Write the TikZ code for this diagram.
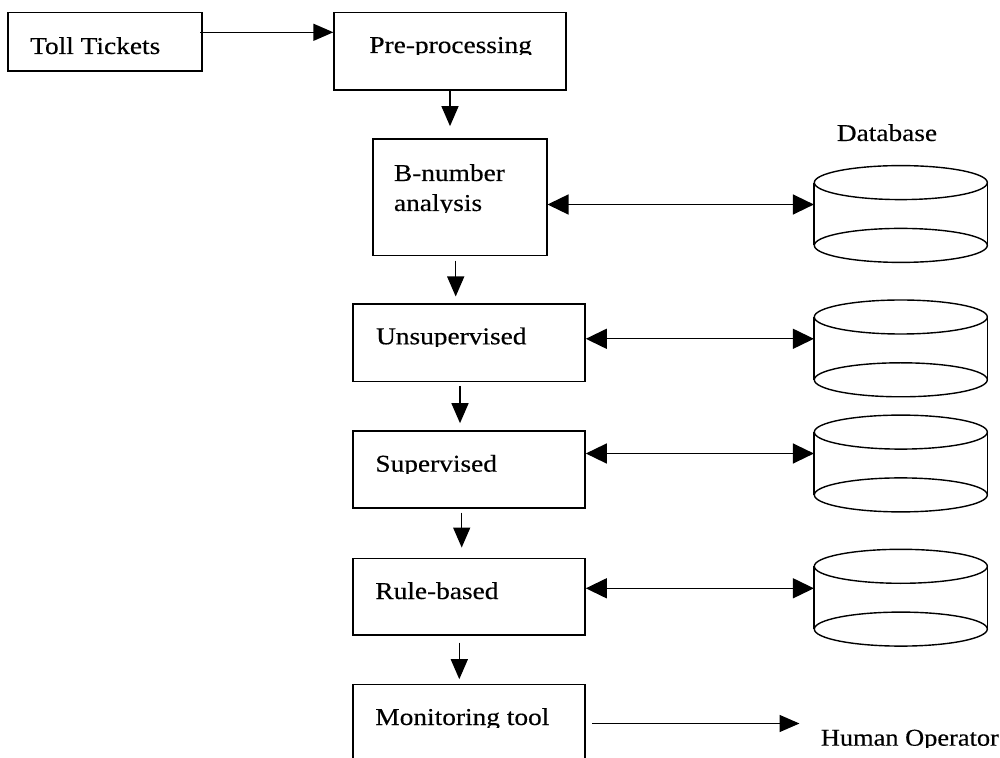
\documentclass[tikz,border=0pt]{standalone}
\usepackage{fontspec}
\setmainfont{Liberation Serif}
\newfontfamily\lblfont{Liberation Serif}[FakeBold=0.35]
\usepackage{graphicx}
\usetikzlibrary{arrows.meta}

\tikzset{
  box/.style={draw, line width=0.8pt, inner sep=0pt},
  lbl/.style={inner sep=0pt, anchor=base west, font=\lblfont\fontsize{12.1pt}{14.5pt}\selectfont},
  arr/.style={line width=0.7pt, -{Triangle[length=10pt,width=8.5pt]}},
  dbl/.style={line width=0.7pt, {Triangle[length=10.5pt,width=10pt]}-{Triangle[length=10.5pt,width=10pt]}},
  dbnode/.style={inner sep=0pt, minimum width=86.5pt, minimum height=48pt},
  dbline/.style={line width=0.7pt},
}
% text set slightly wide
\newcommand{\wide}[2][1.13]{\scalebox{#1}[1]{#2}}
% label cut off just below its baseline: name, x, baseline, clip y, text
\newcommand{\cliplabel}[5]{%
  \begin{scope}
    \clip (#2-10,#3-40) rectangle (#2+400,#4);
    \node[lbl] (#1) at (#2,#3) {#5};
  \end{scope}}
% database cylinder drawn over an invisible node
\newcommand{\dbcyl}[1]{%
  \draw[dbline] ([shift={(0,17)}]#1.north) ellipse [x radius=86.5, y radius=17];
  \draw[dbline] ([shift={(0,-17)}]#1.south) ellipse [x radius=86.5, y radius=17];
  \draw[dbline] ([shift={(0,17)}]#1.north west) -- ([shift={(0,-17)}]#1.south west);
  \draw[dbline] ([shift={(0,17)}]#1.north east) -- ([shift={(0,-17)}]#1.south east);}

\begin{document}
\begin{tikzpicture}[x=0.5pt, y=-0.5pt]
\clip (0,0) rectangle (1000,758);

% process boxes
\node[box, minimum width=97pt,    minimum height=29.15pt] (toll)  at (104.7,41.8) {};
\node[box, minimum width=115.85pt, minimum height=38.65pt] (pre)  at (450,51.3) {};
\node[box, minimum width=87pt,    minimum height=58.35pt] (bnum)  at (459.7,197.3) {};
\node[box, minimum width=116pt,   minimum height=38.7pt]  (unsup) at (469,343) {};
\node[box, minimum width=116pt,   minimum height=38.5pt]  (sup)   at (469,469.5) {};
\node[box, minimum width=116pt,   minimum height=38.35pt] (rule)  at (469,596.7) {};
\node[box, minimum width=116pt,   minimum height=52.85pt] (mon)   at (469,737.15) {};

% databases
\node[dbnode] (db1) at (900.8,214) {};
\node[dbnode] (db2) at (900.8,348.4) {};
\node[dbnode] (db3) at (900.8,463.5) {};
\node[dbnode] (db4) at (900.8,597.7) {};
\dbcyl{db1}
\dbcyl{db2}
\dbcyl{db3}
\dbcyl{db4}

% labels
\cliplabel{tolltxt}{29.8}{54}{62}{\wide{Toll Tickets}}
\cliplabel{pretxt}{369}{53}{54.5}{\wide{Pre-processing}}
\cliplabel{btxt}{393.6}{181}{190}{\wide{B-number}}
\cliplabel{atxt}{393.6}{211}{213}{\wide{analysis}}
\cliplabel{utxt}{375.7}{344.3}{346.7}{\wide{Unsupervised}}
\cliplabel{stxt}{375}{471.7}{474}{\wide{Supervised}}
\cliplabel{rtxt}{375}{599}{606}{\wide{Rule-based}}
\cliplabel{mtxt}{375}{725}{727}{\wide{Monitoring tool}}
\cliplabel{hop}{820.5}{745.7}{747}{\wide[1.09]{Human Operator}}
\node[lbl, anchor=base] (dbtxt) at (887,141) {\wide{Database}};

% main flow
\coordinate (t1) at ([shift={(-2.5,-9.5)}]toll.east);
\draw[arr] (t1) -- (t1 -| pre.west);

\coordinate (d1e) at ([shift={(0,-12)}]bnum.north);
\draw[arr] (pre.south) -- (pre.south |- d1e);

\coordinate (d2s) at ([shift={(-4,4.3)}]bnum.south);
\coordinate (d2e) at ([shift={(0,-7)}]unsup.north);
\draw[arr] (d2s) -- (d2s |- d2e);

\coordinate (d3s) at ([shift={(-9,3.3)}]unsup.south);
\coordinate (d3e) at ([shift={(0,-7)}]sup.north);
\draw[arr] (d3s) -- (d3s |- d3e);

\coordinate (d4s) at ([shift={(-7.3,3.7)}]sup.south);
\coordinate (d4e) at ([shift={(0,-10)}]rule.north);
\draw[arr] (d4s) -- (d4s |- d4e);

\coordinate (d5s) at ([shift={(-9.7,6.7)}]rule.south);
\coordinate (d5e) at ([shift={(0,-4.3)}]mon.north);
\draw[arr] (d5s) -- (d5s |- d5e);

% links to the databases
\coordinate (h1) at ([shift={(0,7.2)}]bnum.east);
\draw[dbl] (h1) -- (h1 -| db1.west);
\coordinate (h2) at ([shift={(0,-4.2)}]unsup.east);
\draw[dbl] (h2) -- (h2 -| db2.west);
\coordinate (h3) at ([shift={(0,-16)}]sup.east);
\draw[dbl] (h3) -- (h3 -| db3.west);
\coordinate (h4) at ([shift={(0,-8.4)}]rule.east);
\draw[dbl] (h4) -- (h4 -| db4.west);

% output to the operator
\coordinate (m1) at ([shift={(6.5,40)}]mon.north east);
\draw[arr, shorten >=10.5pt] (m1) -- (m1 -| hop.west);
\end{tikzpicture}
\end{document}
